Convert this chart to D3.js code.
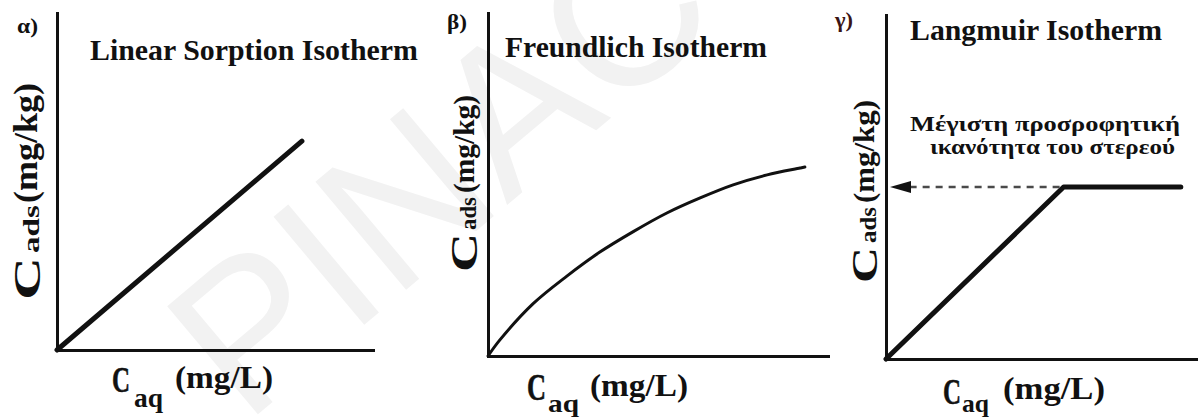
<!DOCTYPE html>
<html>
<head>
<meta charset="utf-8">
<script src="https://cdn.jsdelivr.net/npm/d3@7"></script>
<style>
  html, body { margin: 0; padding: 0; background: #ffffff; }
  svg { display: block; }
</style>
</head>
<body>
<svg id="chart" width="1198" height="419"></svg>
<script>
// ---- data -------------------------------------------------------------
const panelTags = ["α)", "β)", "γ)"];
const panelTitles = ["Linear Sorption Isotherm", "Freundlich Isotherm", "Langmuir Isotherm"];

// Linear sorption: straight line through the origin
const linearCaq  = [0, 7.75];
const linearCads = [0, 6.2];

// Freundlich: concave curve flattening at high concentration
const freundlichCaq  = [0, 0.35, 1.32, 2.32, 3.29, 4.26, 5.26, 6.24, 7.21, 8.21, 9.18, 9.32];
const freundlichCads = [0, 0.47, 1.52, 2.33, 3.03, 3.62, 4.17, 4.61, 4.99, 5.28, 5.48, 5.51];

// Langmuir: linear rise up to the maximum capacity, then a plateau
const langmuirCaq  = [0, 5.73, 9.51];
const langmuirCads = [0, 5.0, 5.0];
const maxCapacityNote = ["Μέγιστη προσροφητική", "ικανότητα του στερεού"];

const yLabelParts = ["C", "ads", "(mg/kg)"];
const xLabelParts = ["C", "aq", "(mg/L)"];

// ---- layout -----------------------------------------------------------
const SERIF = "'Liberation Serif', Tinos, 'Times New Roman', serif";
const domainX = [0, 10], domainY = [0, 10];
const layout = [
  { left: 57,  right: 373,  bottom: 350, top: 13, lineW: 5, tagColor: "#111",
    tag: [17, 33, 21], title: [90, 60, 328],
    yl: { bx: 40, by: 300, C: [0, 43, 38], sub: [47, 48, 24, -1], unit: [97, 120, 33, -3] },
    xl: { C: [112, 392, 18, 36], sub: [134, 407, 29, 27], unit: [175, 388, 98, 32] } },
  { left: 488, right: 828,  bottom: 356, top: 13, lineW: 3, tagColor: "#111",
    tag: [447, 29, 20], title: [505, 57, 262],
    yl: { bx: 477, by: 272, C: [0, 39, 37], sub: [42, 33, 24, -1], unit: [79, 98, 30, -3] },
    xl: { C: [527, 400, 19, 37], sub: [548, 412, 31, 26], unit: [590, 396, 98, 32] } },
  { left: 886, right: 1196, bottom: 359, top: 15, lineW: 5, tagColor: "#3a1414",
    tag: [835, 27, 18], title: [910, 40, 252],
    yl: { bx: 877, by: 283, C: [0, 36, 36], sub: [40, 36, 24, -1], unit: [80, 103, 30, -3] },
    xl: { C: [943, 404, 18, 36], sub: [962, 412, 27, 26], unit: [1003, 399, 102, 32] } }
];

const series = [
  d3.zip(linearCaq, linearCads),
  d3.zip(freundlichCaq, freundlichCads),
  d3.zip(langmuirCaq, langmuirCads)
];

const svg = d3.select("#chart");

// faint diagonal watermark behind the figure
svg.append("text")
  .attr("transform", "translate(245,425) rotate(-40)")
  .attr("font-family", "'Liberation Sans', Arial, sans-serif")
  .attr("font-size", 205)
  .attr("fill", "#f2f2f2")
  .text("PINAC");

function put(g, str, x, y, len, size, color) {
  return g.append("text")
    .attr("x", x).attr("y", y)
    .attr("textLength", len)
    .attr("lengthAdjust", "spacingAndGlyphs")
    .attr("font-family", SERIF)
    .attr("font-weight", "bold")
    .attr("font-size", size)
    .attr("fill", color || "#111")
    .text(str);
}

layout.forEach((L, i) => {
  const x = d3.scaleLinear().domain(domainX).range([L.left, L.right]);
  const y = d3.scaleLinear().domain(domainY).range([L.bottom, L.top]);
  const g = svg.append("g");

  // axes: plain heavy lines, no ticks
  const ax = g.append("g").attr("transform", `translate(0,${L.bottom})`)
    .call(d3.axisBottom(x).ticks(0).tickSize(0).tickSizeOuter(0));
  const ay = g.append("g").attr("transform", `translate(${L.left},0)`)
    .call(d3.axisLeft(y).ticks(0).tickSize(0).tickSizeOuter(0));
  [ax, ay].forEach(a => a.select(".domain")
    .attr("stroke", "#111").attr("stroke-width", 3).attr("stroke-linecap", "square"));

  // isotherm
  const line = d3.line()
    .x(d => x(d[0])).y(d => y(d[1]))
    .curve(i === 1 ? d3.curveCatmullRom.alpha(0.5) : d3.curveLinear);
  g.append("path")
    .datum(series[i])
    .attr("d", line)
    .attr("fill", "none")
    .attr("stroke", "#111")
    .attr("stroke-width", L.lineW)
    .attr("stroke-linejoin", "round")
    .attr("stroke-linecap", "round");

  // tag and title
  put(g, panelTags[i], L.tag[0], L.tag[1], L.tag[2], 21, L.tagColor);
  put(g, panelTitles[i], L.title[0], L.title[1], L.title[2], 30);

  // rotated y label: C with "ads" subscript, then units
  const yl = g.append("g").attr("transform", `translate(${L.yl.bx},${L.yl.by}) rotate(-90)`);
  put(yl, yLabelParts[0], L.yl.C[0], 0, L.yl.C[1], L.yl.C[2]);
  put(yl, yLabelParts[1], L.yl.sub[0], L.yl.sub[3], L.yl.sub[1], L.yl.sub[2]);
  put(yl, yLabelParts[2], L.yl.unit[0], L.yl.unit[3], L.yl.unit[1], L.yl.unit[2]);

  // x label: C with "aq" subscript, then units
  put(g, xLabelParts[0], L.xl.C[0], L.xl.C[1], L.xl.C[2], L.xl.C[3])
    .attr("stroke", "#111").attr("stroke-width", 0.6);
  put(g, xLabelParts[1], L.xl.sub[0], L.xl.sub[1], L.xl.sub[2], L.xl.sub[3]);
  put(g, xLabelParts[2], L.xl.unit[0], L.xl.unit[1], L.xl.unit[2], L.xl.unit[3]);

  // Langmuir: dashed arrow from the plateau to the axis + note
  if (i === 2) {
    const qmax = langmuirCads[1];
    const yq = y(qmax);
    g.append("line")
      .attr("x1", x(langmuirCaq[1]) - 4).attr("x2", L.left + 22)
      .attr("y1", yq).attr("y2", yq)
      .attr("stroke", "#4a4a4a").attr("stroke-width", 2.5)
      .attr("stroke-dasharray", "7,6");
    g.append("path")
      .attr("d", d3.line()([[L.left + 4, yq], [L.left + 25, yq - 6], [L.left + 25, yq + 6]]) + "Z")
      .attr("fill", "#111");
    put(g, maxCapacityNote[0], 910, 131, 270, 20);
    put(g, maxCapacityNote[1], 930, 154, 245, 20);
  }
});
</script>
</body>
</html>
